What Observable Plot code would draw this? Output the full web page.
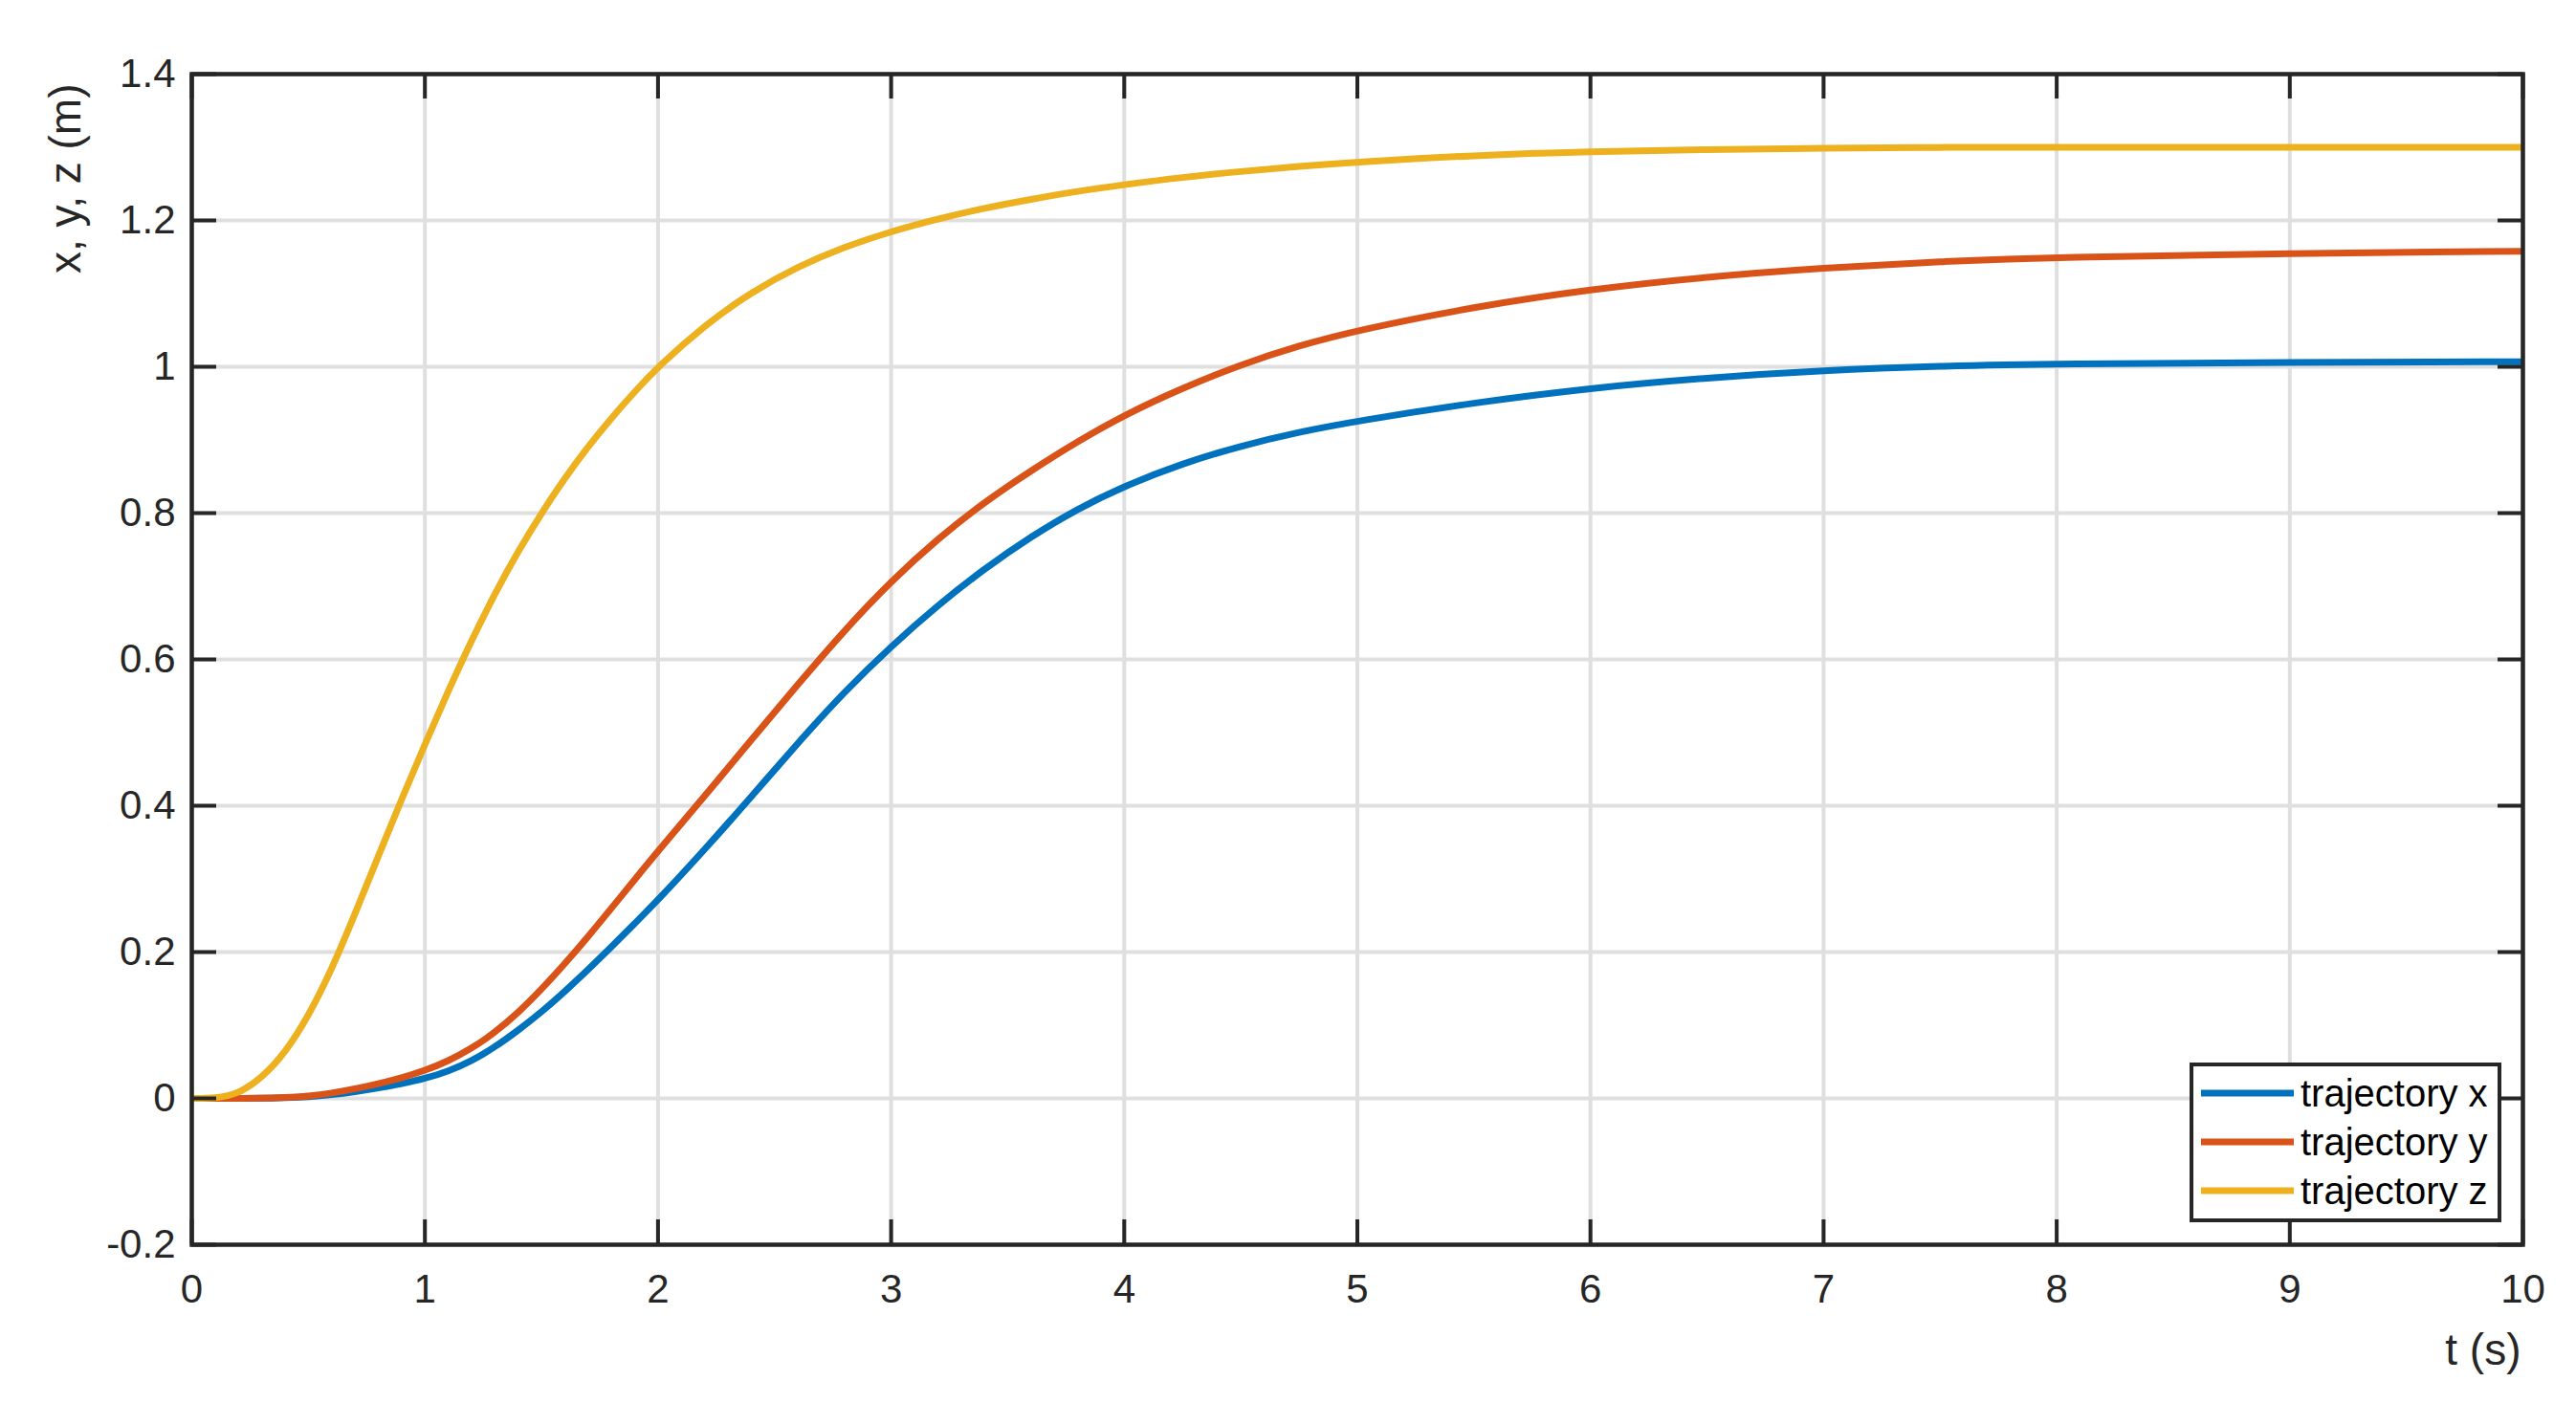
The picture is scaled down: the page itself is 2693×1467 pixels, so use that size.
<!DOCTYPE html>
<html>
<head>
<meta charset="utf-8">
<script src="https://cdn.jsdelivr.net/npm/d3@7"></script>
<script src="https://cdn.jsdelivr.net/npm/@observablehq/plot@0.6"></script>
<style>
  html, body { margin: 0; padding: 0; background: #fff; overflow: hidden; }
  svg { display: block; }
</style>
</head>
<body>
<div id="chart"></div>
<script>
// ---- data ----
const tValues = [0, 0.1, 0.2, 0.3, 0.4, 0.5, 0.6, 0.7, 0.8, 0.9, 1.0, 1.1, 1.2, 1.3, 1.4, 1.5, 1.6, 1.7, 1.8, 1.9, 2.0, 2.2, 2.4, 2.6, 2.8, 3.0, 3.2, 3.4, 3.6, 3.8, 4.0, 4.25, 4.5, 4.75, 5.0, 5.5, 6.0, 6.5, 7.0, 7.5, 8.0, 9.0, 10.0];
const trajX = [0, 0, 0, 0, 0.001, 0.002, 0.005, 0.009, 0.014, 0.02, 0.027, 0.037, 0.051, 0.07, 0.093, 0.118, 0.146, 0.176, 0.207, 0.239, 0.271, 0.34, 0.412, 0.486, 0.556, 0.618, 0.674, 0.724, 0.768, 0.806, 0.837, 0.868, 0.892, 0.911, 0.926, 0.951, 0.971, 0.985, 0.995, 1.001, 1.004, 1.006, 1.007];
const trajY = [0, 0, 0, 0, 0.001, 0.003, 0.007, 0.013, 0.02, 0.028, 0.038, 0.051, 0.068, 0.09, 0.117, 0.149, 0.184, 0.221, 0.26, 0.299, 0.338, 0.413, 0.49, 0.566, 0.64, 0.707, 0.765, 0.815, 0.858, 0.898, 0.934, 0.971, 1.003, 1.029, 1.05, 1.082, 1.106, 1.123, 1.135, 1.144, 1.15, 1.155, 1.158];
const trajZ = [0, 0, 0.006, 0.028, 0.062, 0.112, 0.176, 0.252, 0.331, 0.409, 0.484, 0.557, 0.626, 0.69, 0.748, 0.8, 0.848, 0.891, 0.93, 0.966, 1.0, 1.057, 1.102, 1.137, 1.164, 1.185, 1.202, 1.217, 1.229, 1.24, 1.249, 1.259, 1.267, 1.274, 1.28, 1.289, 1.294, 1.297, 1.299, 1.3, 1.3, 1.3, 1.3];
const seriesNames = ["trajectory x", "trajectory y", "trajectory z"];
const seriesColors = ["#0072BD", "#D95319", "#EDB120"];
const xTicks = [0, 1, 2, 3, 4, 5, 6, 7, 8, 9, 10];
const yTicks = [-0.2, 0, 0.2, 0.4, 0.6, 0.8, 1, 1.2, 1.4];
const xLabel = "t (s)";
const yLabel = "x, y, z (m)";

// ---- layout ----
const W = 2693, H = 1467;
const mL = 200, mR = 56, mT = 77, mB = 166;
const plotW = W - mL - mR, plotH = H - mT - mB;
const tickLen = 26;
const axisColor = "#262626";
const font = "'Liberation Sans', Arial, Helvetica, sans-serif";

const seriesValues = [trajX, trajY, trajZ];
const data = seriesValues.flatMap((vals, i) =>
  tValues.map((t, j) => ({ t, v: vals[j], name: seriesNames[i] }))
);

const chart = Plot.plot({
  width: W, height: H,
  marginLeft: mL, marginRight: mR, marginTop: mT, marginBottom: mB,
  style: { fontFamily: font, color: axisColor, background: "#fff" },
  x: { domain: [0, 10] },
  y: { domain: [-0.2, 1.4] },
  color: { domain: seriesNames, range: seriesColors },
  marks: [
    Plot.ruleX(xTicks, { x: d => d, stroke: "#dfdfdf", strokeWidth: 4 }),
    Plot.ruleY(yTicks, { y: d => d, stroke: "#dfdfdf", strokeWidth: 4 }),
    Plot.line(data, { x: "t", y: "v", z: "name", stroke: "name", strokeWidth: 7, curve: "basis", strokeLinecap: "butt" }),
    Plot.ruleX(xTicks, { x: d => d, insetTop: plotH - tickLen, stroke: axisColor, strokeWidth: 4 }),
    Plot.ruleX(xTicks, { x: d => d, insetBottom: plotH - tickLen, stroke: axisColor, strokeWidth: 4 }),
    Plot.ruleY(yTicks, { y: d => d, insetRight: plotW - tickLen, stroke: axisColor, strokeWidth: 4 }),
    Plot.ruleY(yTicks, { y: d => d, insetLeft: plotW - tickLen, stroke: axisColor, strokeWidth: 4 }),
    Plot.frame({ stroke: axisColor, strokeWidth: 4.5 }),
    Plot.axisX(xTicks, { tickSize: 0, tickPadding: 31, fontSize: 42, tickFormat: d => String(d), label: null }),
    Plot.axisY(yTicks, { tickSize: 0, tickPadding: 17, fontSize: 42, tickFormat: d => String(d), label: null }),
    Plot.text([xLabel], { text: d => d, frameAnchor: "bottom-right", dx: -2, dy: 125, lineAnchor: "bottom", textAnchor: "end", fontSize: 46, fill: axisColor }),
    Plot.text([yLabel], { text: d => d, frameAnchor: "top-left", dx: -117, dy: 10, rotate: -90, lineAnchor: "bottom", textAnchor: "end", fontSize: 46, fill: axisColor })
  ]
});

// ---- legend (inside the axes, bottom right) ----
const svg = d3.select(chart);
const lg = svg.append("g").attr("font-family", font).attr("text-anchor", "start");
const box = { x: 2291, y: 1113, w: 322, h: 163 };
lg.append("rect")
  .attr("x", box.x).attr("y", box.y).attr("width", box.w).attr("height", box.h)
  .attr("fill", "#fff").attr("stroke", axisColor).attr("stroke-width", 4);
seriesNames.forEach((name, i) => {
  const cy = 1143 + i * 51;
  lg.append("line")
    .attr("x1", 2301).attr("x2", 2398).attr("y1", cy).attr("y2", cy)
    .attr("stroke", seriesColors[i]).attr("stroke-width", 7);
  lg.append("text")
    .attr("x", 2405).attr("y", cy + 14)
    .attr("text-anchor", "start")
    .attr("font-size", 40).attr("fill", "#000")
    .text(name);
});

document.getElementById("chart").appendChild(chart);
</script>
</body>
</html>
